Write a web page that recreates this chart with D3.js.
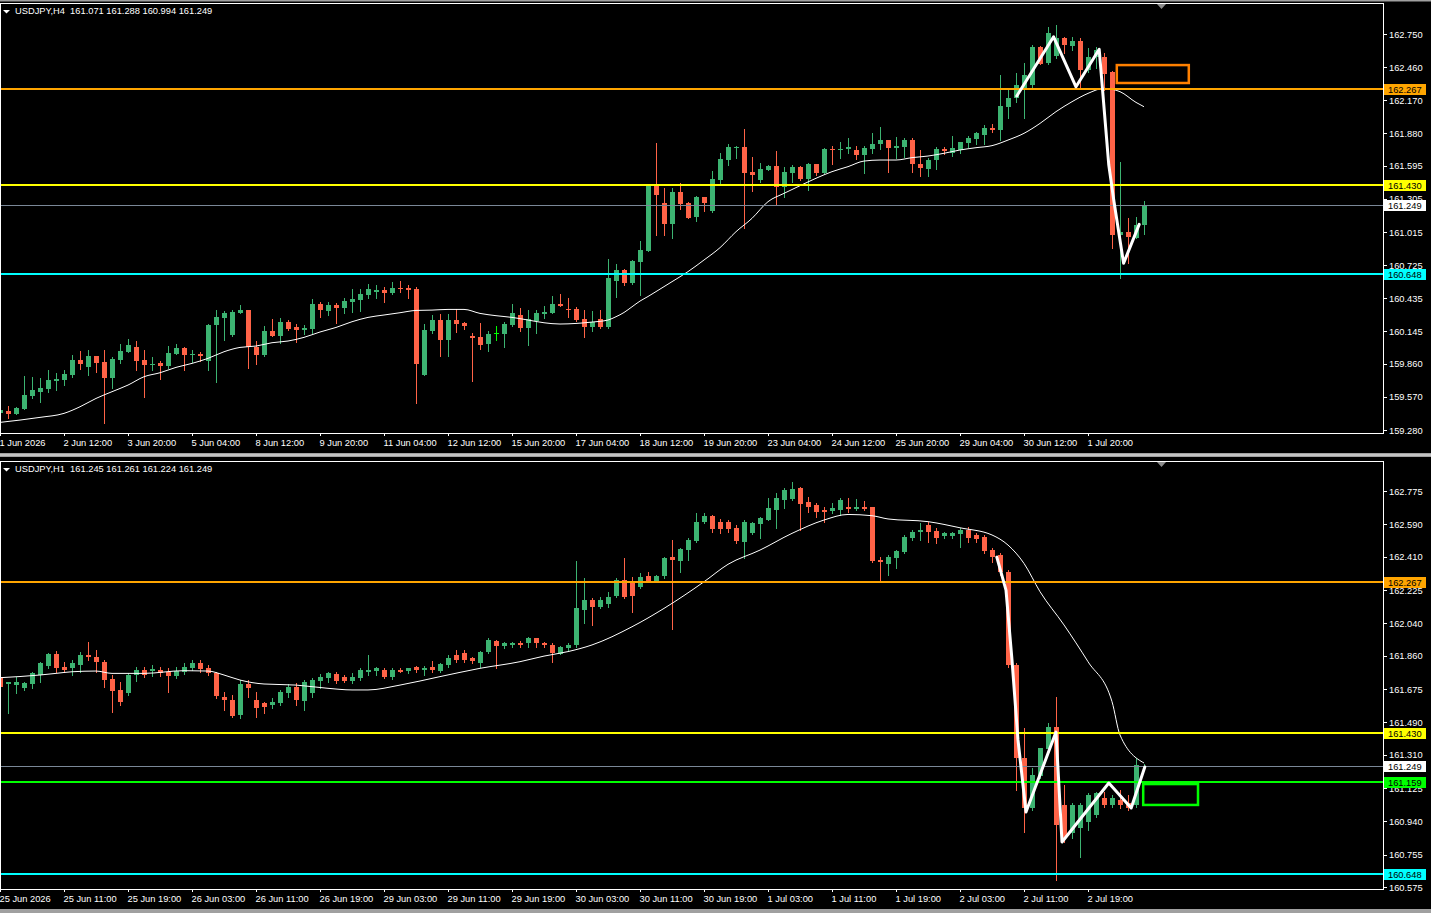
<!DOCTYPE html>
<html>
<head>
<meta charset="utf-8">
<title>USDJPY H4 / H1</title>
<script src="https://cdn.jsdelivr.net/npm/d3@7/dist/d3.min.js"></script>
<style>
  html, body { margin: 0; padding: 0; background: #000; overflow: hidden; }
  svg { display: block; }
  text { font-family: "Liberation Sans", Arial, sans-serif; font-size: 9.3px; fill: #fff; }
</style>
</head>
<body>
<script>
// ---------- H4 panel (top) ----------
var h4Open = [159.426,159.449,159.426,159.467,159.581,159.616,159.639,159.712,159.718,159.762,159.893,159.835,159.928,159.876,159.738,159.893,159.966,160.007,159.893,159.855,
  159.867,159.841,159.949,159.998,159.943,159.946,159.884,160.194,160.264,160.112,160.308,160.331,160.010,159.937,160.147,160.104,160.226,160.182,160.156,160.165,
  160.384,160.323,160.375,160.352,160.401,160.419,160.463,160.489,160.507,160.480,160.524,160.527,160.515,159.765,160.147,160.244,160.068,160.244,160.220,160.104,
  160.092,160.030,160.127,160.121,160.200,160.288,160.174,160.235,160.299,160.308,160.384,160.343,160.340,160.252,160.185,160.249,160.177,160.588,160.682,160.566,
  160.755,160.849,161.421,161.272,161.085,161.369,161.272,161.144,161.322,161.202,161.471,161.646,161.754,161.760,161.544,161.471,161.559,161.594,161.413,161.529,
  161.585,161.480,161.611,161.535,161.743,161.740,161.743,161.734,161.690,161.748,161.784,161.821,161.748,161.763,161.821,161.608,161.567,161.646,161.743,161.705,
  161.734,161.792,161.830,161.871,161.924,161.909,162.113,162.192,162.259,162.303,162.639,162.493,162.552,162.712,162.648,162.689,162.435,162.546,162.552,162.420,
  160.995,161.012,160.966,161.071];
var h4High = [159.484,159.490,159.484,159.753,159.747,159.733,159.806,159.776,159.806,159.937,159.972,159.981,159.931,159.981,159.917,160.033,160.077,160.060,159.981,159.917,
  159.884,160.016,160.033,160.010,159.981,159.963,160.209,160.331,160.323,160.331,160.375,160.334,160.060,160.191,160.252,160.258,160.244,160.209,160.200,160.425,
  160.404,160.404,160.390,160.434,160.515,160.512,160.559,160.550,160.536,160.577,160.588,160.550,160.536,160.209,160.288,160.296,160.296,160.337,160.229,160.130,
  160.214,160.147,160.191,160.229,160.381,160.346,160.331,160.331,160.366,160.454,160.471,160.434,160.360,160.331,160.323,160.331,160.775,160.734,160.690,160.770,
  160.936,161.425,161.798,161.398,161.398,161.448,161.280,161.331,161.326,161.553,161.705,161.783,161.769,161.918,161.672,161.617,161.600,161.725,161.588,161.602,
  161.590,161.623,161.615,161.748,161.769,161.801,161.836,161.772,161.772,161.886,161.938,161.825,161.848,161.836,161.836,161.731,161.661,161.763,161.763,161.856,
  161.807,161.856,161.894,161.953,161.965,162.391,162.274,162.405,162.493,162.654,162.645,162.815,162.825,162.727,162.727,162.718,162.625,162.639,162.581,162.430,
  161.632,161.141,161.150,161.288];
var h4Low = [159.411,159.388,159.420,159.462,159.557,159.528,159.616,159.630,159.674,159.747,159.814,159.762,159.791,159.344,159.651,159.870,159.960,159.806,159.572,159.806,
  159.730,159.820,159.946,159.808,159.879,159.884,159.808,159.703,160.068,160.105,160.302,159.826,159.861,159.928,160.100,160.039,160.156,160.054,160.121,160.133,
  160.267,160.290,160.220,160.308,160.317,160.325,160.434,160.439,160.404,160.474,160.492,160.439,159.519,159.762,160.133,159.928,159.928,160.141,160.168,159.712,
  159.990,159.975,160.068,160.010,160.191,160.147,160.025,160.127,160.258,160.302,160.366,160.273,160.238,160.098,160.147,160.171,160.171,160.448,160.551,160.560,
  160.463,160.845,160.989,160.989,160.966,161.217,161.140,161.112,161.202,161.188,161.433,161.602,161.667,161.053,161.377,161.456,161.555,161.252,161.325,161.456,
  161.471,161.383,161.515,161.530,161.608,161.661,161.704,161.652,161.535,161.710,161.740,161.544,161.661,161.675,161.544,161.509,161.509,161.564,161.696,161.684,
  161.711,161.763,161.786,161.786,161.889,161.821,162.017,162.157,162.011,162.289,162.484,162.484,162.540,162.581,162.610,162.274,162.420,162.449,162.259,160.878,
  160.609,160.741,160.960,160.994];
var h4Close = [159.455,159.426,159.476,159.587,159.630,159.651,159.718,159.730,159.771,159.893,159.858,159.928,159.870,159.738,159.902,159.972,160.025,159.887,159.852,159.861,
  159.844,159.955,160.001,159.940,159.949,159.928,160.200,160.267,160.305,160.314,160.331,160.004,159.937,160.147,160.104,160.226,160.162,160.156,160.171,160.384,
  160.331,160.372,160.352,160.410,160.428,160.474,160.515,160.507,160.483,160.527,160.518,160.509,159.858,160.156,160.244,160.068,160.244,160.209,160.194,160.089,
  160.025,160.121,160.127,160.209,160.308,160.174,160.249,160.305,160.314,160.384,160.369,160.337,160.244,160.185,160.229,160.177,160.609,160.682,160.566,160.761,
  160.858,161.421,161.340,161.085,161.369,161.261,161.144,161.322,161.272,161.480,161.655,161.763,161.760,161.535,161.515,161.567,161.594,161.413,161.544,161.585,
  161.480,161.611,161.535,161.743,161.737,161.746,161.757,161.690,161.754,161.789,161.821,161.748,161.769,161.821,161.608,161.573,161.646,161.743,161.728,161.748,
  161.801,161.836,161.886,161.929,161.909,162.119,162.192,162.303,162.391,162.639,162.493,162.756,162.712,162.654,162.689,162.435,162.552,162.610,162.405,160.995,
  161.018,160.966,161.077,161.249];
// moving average (bar index, price)
var h4MaIdx = [0,5,8,10,12,14,16,18,20,22,24,26,28,30,32,34,36,38,40,42,44,46,48,50,52,54,56,58,60,62,64,66,68,70,72,74,76,77,78,79,80,81,82,84,86,88,90,92,94,96,98,100,102,104,106,108,110,112,114,116,118,120,122,124,126,128,130,132,134,136,138,140,142,143];
var h4MaVal = [159.347,159.391,159.426,159.484,159.557,159.616,159.674,159.747,159.782,159.829,159.864,159.908,159.966,160.004,160.016,160.045,160.060,160.092,160.139,160.179,
  160.229,160.267,160.288,160.308,160.328,160.331,160.337,160.337,160.302,160.282,160.267,160.244,160.220,160.209,160.214,160.226,160.244,160.273,160.310,160.360,
  160.410,160.450,160.493,160.580,160.668,160.770,160.878,161.018,161.135,161.281,161.354,161.421,161.486,161.544,161.588,161.637,161.646,161.646,161.667,161.681,
  161.705,161.734,161.754,161.772,161.821,161.880,161.967,162.070,162.157,162.230,162.274,162.245,162.151,162.113];
var h4TickPrices = [162.750,162.460,162.170,161.880,161.595,161.305,161.015,160.725,160.435,160.145,159.860,159.570,159.280];
var h4TimeLabels = ["1 Jun 2026","2 Jun 12:00","3 Jun 20:00","5 Jun 04:00","8 Jun 12:00","9 Jun 20:00","11 Jun 04:00","12 Jun 12:00","15 Jun 20:00",
  "17 Jun 04:00","18 Jun 12:00","19 Jun 20:00","23 Jun 04:00","24 Jun 12:00","25 Jun 20:00","29 Jun 04:00","30 Jun 12:00","1 Jul 20:00"];
// hand drawn zigzag and box
var h4ZigIdx = [127.1,131.7,134.5,137.4,138.6,139.25,140.45,142.4];
var h4ZigVal = [162.207,162.726,162.288,162.616,161.602,161.280,160.741,161.082];
var h4BoxIdx = [139.6,148.6];
var h4BoxVal = [162.478,162.321];

// ---------- H1 panel (bottom) ----------
var h1Open = [161.744,161.701,161.697,161.679,161.701,161.753,161.805,161.870,161.799,161.790,161.808,161.864,161.855,161.827,161.731,161.670,161.651,161.753,161.781,161.771,
  161.781,161.768,161.747,161.771,161.790,161.818,161.790,161.762,161.633,161.614,161.527,161.701,161.614,161.596,161.586,161.601,161.657,161.688,161.608,161.651,
  161.720,161.734,161.757,161.744,161.720,161.734,161.771,161.771,161.781,161.744,161.781,161.775,161.799,161.781,161.796,161.775,161.808,161.864,161.873,161.846,
  161.823,161.879,161.944,161.910,161.916,161.929,161.929,161.957,161.929,161.920,161.873,161.901,161.916,162.114,162.170,162.133,162.151,162.194,162.281,162.262,
  162.244,162.305,162.275,162.299,162.410,162.386,162.447,162.497,162.605,162.638,162.605,162.601,162.568,162.494,162.540,162.590,162.614,162.670,162.725,162.731,
  162.794,162.716,162.697,162.670,162.660,162.670,162.688,162.675,162.688,162.684,162.392,162.373,162.401,162.438,162.516,162.549,162.586,162.553,162.521,162.525,
  162.534,162.558,162.531,162.521,162.447,162.420,162.327,161.808,161.290,161.012,161.188,161.342,161.466,161.031,160.873,160.901,160.938,160.975,161.068,161.031,
  161.059,161.040,161.031,161.245];
var h1High = [161.753,161.716,161.744,161.716,161.771,161.827,161.877,161.886,161.827,161.836,161.883,161.938,161.892,161.836,161.753,161.716,161.762,161.799,161.799,161.808,
  161.799,161.790,161.799,161.818,161.836,161.836,161.808,161.771,161.660,161.642,161.725,161.725,161.660,161.605,161.623,161.670,161.701,161.707,161.725,161.738,
  161.757,161.771,161.771,161.753,161.762,161.790,161.864,161.799,161.790,161.790,161.790,161.794,161.805,161.805,161.831,161.818,161.864,161.892,161.892,161.855,
  161.886,161.957,161.947,161.938,161.938,161.942,161.966,161.960,161.938,161.929,161.916,161.929,162.386,162.294,162.179,162.188,162.216,162.294,162.405,162.299,
  162.318,162.327,162.308,162.410,162.503,162.460,162.512,162.651,162.651,162.642,162.618,162.614,162.586,162.614,162.605,162.633,162.734,162.762,162.790,162.823,
  162.799,162.744,162.707,162.688,162.707,162.734,162.734,162.731,162.720,162.688,162.410,162.420,162.447,162.531,162.558,162.595,162.605,162.568,162.549,162.549,
  162.571,162.577,162.540,162.531,162.457,162.429,162.336,161.820,161.457,161.234,161.350,161.484,161.633,161.142,161.040,161.040,161.096,161.105,161.105,161.086,
  161.114,161.086,161.290,161.261];
var h1Low = [161.651,161.540,161.651,161.670,161.679,161.716,161.794,161.771,161.771,161.753,161.771,161.836,161.771,161.688,161.545,161.586,161.642,161.720,161.744,161.747,
  161.747,161.660,161.734,161.757,161.781,161.771,161.753,161.623,161.558,161.521,161.512,161.633,161.521,161.540,161.568,161.586,161.633,161.586,161.558,161.633,
  161.679,161.716,161.707,161.716,161.707,161.725,161.753,161.753,161.734,161.731,161.768,161.762,161.771,161.753,161.768,161.771,161.799,161.827,161.827,161.818,
  161.799,161.873,161.794,161.901,161.910,161.910,161.910,161.910,161.910,161.827,161.868,161.892,161.910,162.040,162.031,162.123,162.133,162.188,162.183,162.105,
  162.234,162.268,162.271,162.290,162.008,162.327,162.392,162.494,162.595,162.549,162.540,162.545,162.484,162.401,162.534,162.512,162.614,162.568,162.679,162.725,
  162.558,162.660,162.633,162.605,162.651,162.642,162.660,162.670,162.670,162.379,162.281,162.308,162.349,162.429,162.503,162.503,162.494,162.484,162.512,162.512,
  162.466,162.494,162.494,162.429,162.383,162.308,161.800,161.114,160.883,161.003,161.179,161.327,160.614,160.827,160.846,160.744,160.892,160.966,161.021,161.021,
  161.012,161.003,161.021,161.224];
var h1Close = [161.688,161.712,161.712,161.707,161.762,161.818,161.870,161.794,161.781,161.818,161.864,161.855,161.827,161.725,161.664,161.605,161.753,161.781,161.753,161.784,
  161.762,161.747,161.775,161.799,161.818,161.786,161.762,161.633,161.614,161.527,161.701,161.679,161.571,161.571,161.605,161.660,161.688,161.614,161.716,161.725,
  161.744,161.762,161.720,161.720,161.744,161.781,161.781,161.790,161.744,161.781,161.771,161.790,161.781,161.794,161.781,161.812,161.846,161.836,161.836,161.827,
  161.883,161.947,161.916,161.929,161.929,161.920,161.957,161.929,161.916,161.873,161.910,161.920,162.123,162.170,162.133,162.170,162.188,162.281,162.188,162.188,
  162.299,162.275,162.305,162.401,162.392,162.453,162.503,162.605,162.638,162.568,162.568,162.564,162.494,162.605,162.595,162.623,162.679,162.734,162.781,162.786,
  162.707,162.688,162.660,162.657,162.679,162.725,162.675,162.688,162.675,162.383,162.379,162.410,162.442,162.521,162.549,162.558,162.549,162.516,162.540,162.540,
  162.558,162.516,162.508,162.442,162.410,162.327,161.808,161.290,161.012,161.197,161.346,161.466,160.920,160.846,161.031,161.031,161.086,161.096,161.031,161.068,
  161.031,161.012,161.253,161.249];
var h1MaIdx = [0,5,7,9,12,14,18,23,26,28,30,33,37,41,44,46,50,55,60,65,68,71,74,79,83,88,91,95,99,103,106,109,111,116,120,124,126,128,130,133,136,139,140,143];
var h1MaVal = [161.738,161.753,161.762,161.771,161.775,161.762,161.762,161.777,161.775,161.753,161.725,161.703,161.697,161.679,161.670,161.670,161.697,161.744,161.790,161.827,
  161.858,161.883,161.920,162.021,162.123,162.271,162.368,162.447,162.540,162.614,162.645,162.638,162.620,162.605,162.571,162.531,162.475,162.373,162.216,162.031,
  161.827,161.605,161.420,161.264];
var h1TickPrices = [162.775,162.590,162.410,162.225,162.040,161.860,161.675,161.490,161.310,161.125,160.940,160.755,160.575];
var h1TimeLabels = ["25 Jun 2026","25 Jun 11:00","25 Jun 19:00","26 Jun 03:00","26 Jun 11:00","26 Jun 19:00","29 Jun 03:00","29 Jun 11:00","29 Jun 19:00",
  "30 Jun 03:00","30 Jun 11:00","30 Jun 19:00","1 Jul 03:00","1 Jul 11:00","1 Jul 19:00","2 Jul 03:00","2 Jul 11:00","2 Jul 19:00"];
var h1ZigIdx = [124.6,125.75,126.5,127.25,128.25,132.0,132.75,138.6,141.4,143.1];
var h1ZigVal = [162.408,162.225,161.836,161.392,160.992,161.436,160.825,161.153,161.014,161.242];
var h1BoxIdx = [142.9,149.75];
var h1BoxVal = [161.147,161.031];

// horizontal levels (same on both charts) + extra green level on H1
var levelPrices = [162.267, 161.430, 160.648];
var h1ExtraLevel = 161.159;
var bidPrice = 161.249;

var W = 1431, H = 913;
var plotRight = 1383;
var f3 = d3.format(".3f");

var svg = d3.select("body").append("svg")
            .attr("width", W)
            .attr("height", H);

svg.append("rect").attr("width", W).attr("height", H).attr("fill", "#000");

// window separators
svg.append("rect").attr("x", 0).attr("y", 0).attr("width", W).attr("height", 1.5).attr("fill", "#a0a0a0");
svg.append("rect").attr("x", 0).attr("y", 453).attr("width", W).attr("height", 4).attr("fill", "#a0a0a0");
svg.append("rect").attr("x", 0).attr("y", 454.5).attr("width", W).attr("height", 1).attr("fill", "#e6e6e6");
svg.append("rect").attr("x", 0).attr("y", 909).attr("width", W).attr("height", 4).attr("fill", "#a0a0a0");

function candleColour(o, c) {
    if (c > o) return "#3cb371";
    if (c < o) return "#ff6347";
    return "#00ff00";
}

function drawPanel(p) {
    var x = d3.scaleLinear().domain([0, 173]).range([0, 1384]);
    var y = d3.scaleLinear().domain(p.domain).range([p.bottom, p.top]);
    var n = p.open.length;
    var bars = d3.range(n);

    svg.append("clipPath").attr("id", "clip" + p.id)
       .append("rect")
       .attr("x", 0).attr("y", p.top)
       .attr("width", plotRight).attr("height", p.bottom - p.top);

    var plot = svg.append("g").attr("clip-path", "url(#clip" + p.id + ")");
    var col = function(i) { return candleColour(p.open[i], p.close[i]); };

    // candles: wick then body
    plot.append("g").attr("shape-rendering", "crispEdges")
        .selectAll("line").data(bars).join("line")
        .attr("x1", i => Math.round(x(i)) + 0.5)
        .attr("x2", i => Math.round(x(i)) + 0.5)
        .attr("y1", i => Math.round(y(p.high[i])))
        .attr("y2", i => Math.round(y(p.low[i])) + 1)
        .attr("stroke", col);

    plot.append("g").attr("shape-rendering", "crispEdges")
        .selectAll("rect").data(bars).join("rect")
        .attr("x", i => Math.round(x(i)) - 2)
        .attr("y", i => Math.round(y(Math.max(p.open[i], p.close[i]))))
        .attr("width", 5)
        .attr("height", i => Math.max(1, Math.round(Math.abs(y(p.open[i]) - y(p.close[i])))))
        .attr("fill", col);

    // moving average
    var ma = d3.line()
               .x((d, k) => x(p.maIdx[k]))
               .y(d => y(d))
               .curve(d3.curveMonotoneX);
    plot.append("path")
        .attr("d", ma(p.maVal))
        .attr("fill", "none")
        .attr("stroke", "#fff")
        .attr("stroke-width", 1);

    // horizontal levels
    var levels = p.levels;
    plot.append("g").attr("shape-rendering", "crispEdges")
        .selectAll("line").data(levels).join("line")
        .attr("x1", 0).attr("x2", plotRight)
        .attr("y1", d => Math.round(y(d.price)))
        .attr("y2", d => Math.round(y(d.price)))
        .attr("stroke", d => d.colour)
        .attr("stroke-width", 2);

    // bid line
    plot.append("line").attr("shape-rendering", "crispEdges")
        .attr("x1", 0).attr("x2", plotRight)
        .attr("y1", Math.round(y(bidPrice)) + 0.5)
        .attr("y2", Math.round(y(bidPrice)) + 0.5)
        .attr("stroke", "#7a8797");

    // hand drawn zigzag
    var zz = d3.line().x((d, k) => x(p.zigIdx[k])).y(d => y(d));
    plot.append("path")
        .attr("d", zz(p.zigVal))
        .attr("fill", "none")
        .attr("stroke", "#fff")
        .attr("stroke-width", 3)
        .attr("stroke-linejoin", "round")
        .attr("stroke-linecap", "round");

    // rectangle
    plot.append("rect")
        .attr("x", x(p.boxIdx[0]))
        .attr("y", y(p.boxVal[0]))
        .attr("width", x(p.boxIdx[1]) - x(p.boxIdx[0]))
        .attr("height", y(p.boxVal[1]) - y(p.boxVal[0]))
        .attr("fill", "none")
        .attr("stroke", p.boxColour)
        .attr("stroke-width", 2.5);

    // frame
    svg.append("rect").attr("shape-rendering", "crispEdges")
       .attr("x", 0.5).attr("y", p.top + 0.5)
       .attr("width", plotRight).attr("height", p.bottom - p.top)
       .attr("fill", "none").attr("stroke", "#fff");

    // chart shift marker
    svg.append("path")
       .attr("d", "M1157," + (p.top + 1) + "L1166," + (p.top + 1) + "L1161.5," + (p.top + 6) + "Z")
       .attr("fill", "#8c8c8c");

    // price axis
    var yAxis = svg.append("g")
                   .attr("transform", "translate(" + plotRight + ",0)")
                   .style("color", "#fff")
                   .call(d3.axisRight(y).tickValues(p.ticks).tickFormat(f3).tickSize(4).tickPadding(2));
    yAxis.select(".domain").remove();
    yAxis.selectAll(".tick line").attr("shape-rendering", "crispEdges");

    // time axis
    var xAxis = svg.append("g")
                   .attr("transform", "translate(0," + p.bottom + ")")
                   .style("color", "#fff")
                   .call(d3.axisBottom(x)
                           .tickValues(d3.range(0, p.timeLabels.length * 8, 8))
                           .tickFormat((d, k) => p.timeLabels[k])
                           .tickSize(3).tickPadding(3));
    xAxis.select(".domain").remove();
    xAxis.selectAll(".tick line").attr("shape-rendering", "crispEdges");
    xAxis.selectAll(".tick text").attr("text-anchor", "start").attr("x", -1);

    // price tags on the axis
    var tags = levels.concat([{ price: bidPrice, colour: "#fff" }]);
    var tag = svg.append("g").selectAll("g").data(tags).join("g")
                 .attr("transform", d => "translate(" + (plotRight + 1) + "," + Math.round(y(d.price)) + ")");
    tag.append("rect").attr("shape-rendering", "crispEdges")
       .attr("x", 0).attr("y", -5).attr("width", 42).attr("height", 11)
       .attr("fill", d => d.colour);
    tag.append("text")
       .attr("x", 4).attr("y", 4)
       .style("fill", "#000")
       .text(d => f3(d.price));

    // header
    var hdr = svg.append("g").attr("transform", "translate(0," + p.top + ")");
    hdr.append("path").attr("d", "M3,7L10,7L6.5,10.5Z").attr("fill", "#fff");
    hdr.append("text")
       .attr("x", 15).attr("y", 11)
       .style("white-space", "pre")
       .text(p.title + "  " + [p.open[n - 1], p.high[n - 1], p.low[n - 1], p.close[n - 1]].map(f3).join(" "));
}

drawPanel({
    id: "h4", title: "USDJPY,H4",
    top: 3, bottom: 433, domain: [159.254, 163.022],
    open: h4Open, high: h4High, low: h4Low, close: h4Close,
    maIdx: h4MaIdx, maVal: h4MaVal,
    ticks: h4TickPrices, timeLabels: h4TimeLabels,
    zigIdx: h4ZigIdx, zigVal: h4ZigVal,
    boxIdx: h4BoxIdx, boxVal: h4BoxVal, boxColour: "#ff8000",
    levels: [
        { price: levelPrices[0], colour: "#ffa500" },
        { price: levelPrices[1], colour: "#ffff00" },
        { price: levelPrices[2], colour: "#00ffff" }
    ]
});

drawPanel({
    id: "h1", title: "USDJPY,H1",
    top: 461, bottom: 889, domain: [160.564, 162.942],
    open: h1Open, high: h1High, low: h1Low, close: h1Close,
    maIdx: h1MaIdx, maVal: h1MaVal,
    ticks: h1TickPrices, timeLabels: h1TimeLabels,
    zigIdx: h1ZigIdx, zigVal: h1ZigVal,
    boxIdx: h1BoxIdx, boxVal: h1BoxVal, boxColour: "#00ff00",
    levels: [
        { price: levelPrices[0], colour: "#ffa500" },
        { price: levelPrices[1], colour: "#ffff00" },
        { price: h1ExtraLevel, colour: "#00ff00" },
        { price: levelPrices[2], colour: "#00ffff" }
    ]
});
</script>
</body>
</html>
